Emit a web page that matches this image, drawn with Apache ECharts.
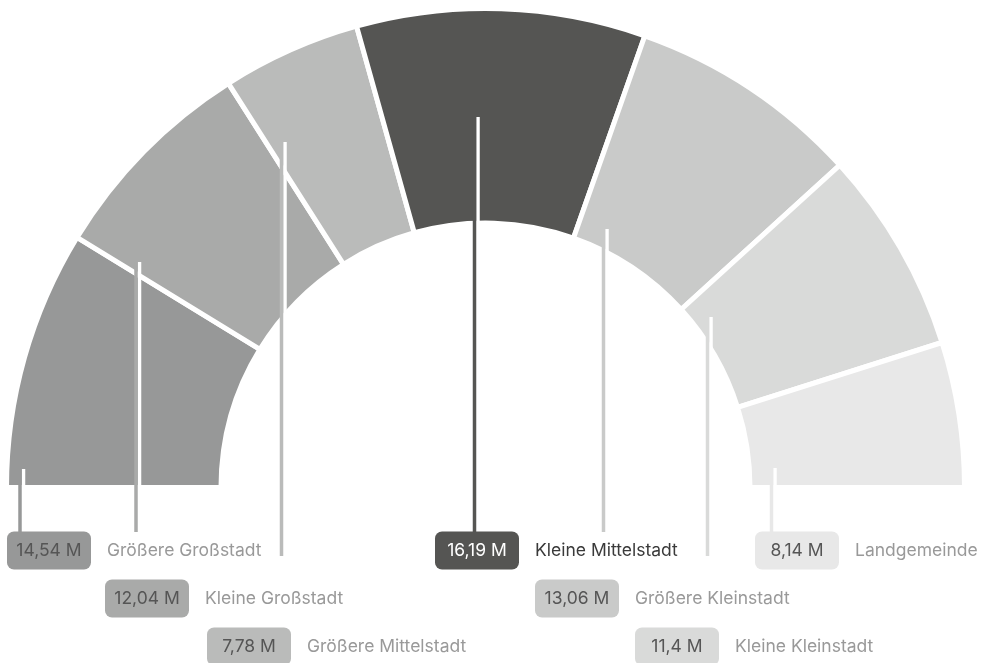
<!DOCTYPE html>
<html>
<head>
<meta charset="utf-8">
<script src="https://cdn.jsdelivr.net/npm/echarts@6/dist/echarts.min.js"></script>
<style>
  html, body { margin: 0; padding: 0; background: #fff; }
  #chart { width: 987px; height: 663px; }
</style>
</head>
<body>
<div id="chart"></div>
<script>
// Gemeindetypen, Einwohner in Mio.
const categories = ['Größere Großstadt', 'Kleine Großstadt', 'Größere Mittelstadt', 'Kleine Mittelstadt', 'Größere Kleinstadt', 'Kleine Kleinstadt', 'Landgemeinde']
const values = [14.54, 12.04, 7.78, 16.19, 13.06, 11.4, 8.14]

// Farben und Label-Position
const colors = ['#979898', '#a9aaa9', '#babbba', '#555553', '#c9cac9', '#d9dad9', '#e8e8e8']
const valueColors = ['#555', '#555', '#555', '#fff', '#555', '#555', '#555']
const nameColors = ['#999', '#999', '#999', '#3a3a3a', '#999', '#999', '#999']
const boxPos = [[7, 532], [105, 580], [207, 628], [435, 532], [535, 580], [635, 628], [755, 532]]
const linePos = [[20, 469, 532], [136, 262, 532], [281.5, 142, 556], [474.5, 117, 532], [603.5, 229, 532], [707.5, 317, 556], [771.5, 468, 532]]

const BOX_H = 37

function fmt (v) {
  return String(v).replace('.', ',') + ' M'
}

var chartDom = document.getElementById('chart')
var myChart = echarts.init(chartDom)

const pieBase = {
  type: 'pie',
  center: [485.5, 487.5],
  radius: [264.5, 479],
  startAngle: 180,
  endAngle: 0,
  clockwise: true,
  avoidLabelOverlap: false,
  silent: true
}

var option = {
  animation: false,
  series: [
    // Segmente
    Object.assign({}, pieBase, {
      z: 2,
      itemStyle: { borderColor: '#fff', borderWidth: 5 },
      label: { show: false },
      labelLine: { show: false },
      data: categories.map(function (name, i) {
        return { name: name, value: values[i], itemStyle: { color: colors[i] } }
      })
    }),
    // Beschriftung + Linien oben drauf
    Object.assign({}, pieBase, {
      z: 5,
      itemStyle: { color: 'rgba(0,0,0,0)', borderWidth: 0 },
      label: {
        show: true,
        position: 'outside',
        fontFamily: 'Inter',
        formatter: function (p) {
          return '{v|' + fmt(p.value) + '}{n|' + p.name + '}'
        }
      },
      labelLine: {
        show: true,
        lineStyle: {
          width: 3.5,
          shadowColor: '#fff',
          shadowOffsetX: 3.5,
          shadowBlur: 0
        }
      },
      labelLayout: function (params) {
        const i = params.dataIndex
        const l = linePos[i]
        return {
          x: boxPos[i][0],
          y: boxPos[i][1] + BOX_H / 2,
          align: 'left',
          verticalAlign: 'middle',
          labelLinePoints: [[l[0], l[1]], [l[0], l[2]]]
        }
      },
      data: categories.map(function (name, i) {
        return {
          name: name,
          value: values[i],
          labelLine: { lineStyle: { color: colors[i] } },
          label: {
            rich: {
              v: {
                width: 84,
                align: 'center',
                padding: [10, 0],
                lineHeight: 17,
                fontSize: 17.5,
                fontFamily: 'Inter',
                borderRadius: 7,
                backgroundColor: colors[i],
                color: valueColors[i]
              },
              n: {
                padding: [0, 0, 0, 16],
                fontSize: 17.5,
                fontFamily: 'Inter',
                color: nameColors[i]
              }
            }
          }
        }
      })
    })
  ]
}

option && myChart.setOption(option)
</script>
</body>
</html>
